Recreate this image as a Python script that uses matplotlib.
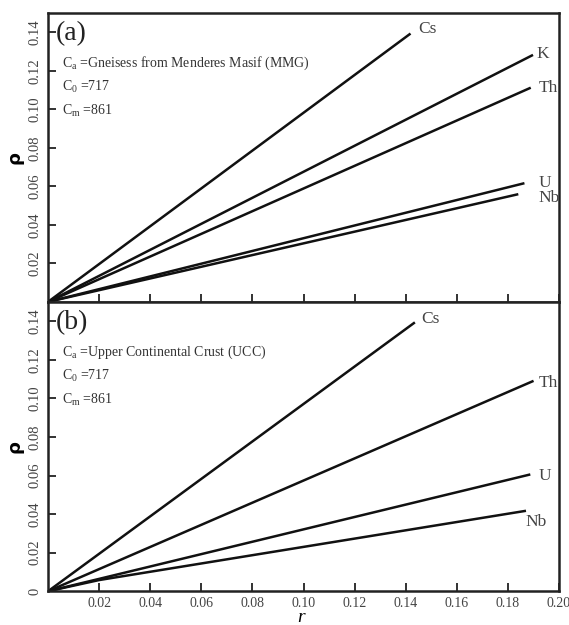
import matplotlib
matplotlib.use("Agg")
from matplotlib import pyplot as plt

# panel (a): Gneisess from Menderes Masif
a_names = ["Cs", "K", "Th", "U", "Nb"]
a_r = [[0, 0.1415], [0, 0.1894], [0, 0.1885], [0, 0.186], [0, 0.1836]]
a_rho = [[0, 0.139], [0, 0.128], [0, 0.111], [0, 0.0615], [0, 0.0558]]
a_lab = [(0.145, 0.142), (0.191, 0.129), (0.192, 0.111), (0.192, 0.062), (0.192, 0.054)]

# panel (b): Upper Continental Crust
b_names = ["Cs", "Th", "U", "Nb"]
b_r = [[0, 0.1432], [0, 0.1896], [0, 0.1883], [0, 0.02, 0.1866]]
b_rho = [[0, 0.139], [0, 0.1088], [0, 0.0604], [0, 0.0058, 0.0416]]
b_lab = [(0.146, 0.141), (0.192, 0.108), (0.192, 0.060), (0.187, 0.036)]

xticks = [0.02, 0.04, 0.06, 0.08, 0.10, 0.12, 0.14, 0.16, 0.18, 0.20]
yticks = [0.02, 0.04, 0.06, 0.08, 0.10, 0.12, 0.14]

serif = "Liberation Serif"
grey = "#444444"
plt.rcParams["mathtext.fontset"] = "custom"
plt.rcParams["mathtext.rm"] = serif

fig = plt.figure(figsize=(5.69, 6.25), dpi=100)
ax1 = fig.add_axes([0.0844, 0.517, 0.898, 0.462])
ax2 = fig.add_axes([0.0844, 0.054, 0.898, 0.463])


def setup(ax, ylist, show_x):
    ax.set_xlim(0, 0.20)
    ax.set_ylim(0, 0.15)
    ax.set_xticks(xticks)
    ax.set_yticks(ylist)
    ax.tick_params(direction="in", length=6, width=1.3, colors="#222222",
                   labelcolor=grey, top=False, right=False, pad=5)
    ax.tick_params(axis="x", pad=4)
    ax.set_yticklabels(["0" if v == 0 else "%.2f" % v for v in ylist],
                       rotation=90, va="center", family=serif, fontsize=10.5)
    if show_x:
        ax.set_xticklabels(["%.2f" % v for v in xticks], family=serif, fontsize=10)
    else:
        ax.set_xticklabels([])
    for s in ax.spines.values():
        s.set_linewidth(1.8)
        s.set_color("#222222")
    ax.set_ylabel("ρ", fontsize=13, fontweight="bold", labelpad=3)


setup(ax1, yticks, False)
setup(ax2, [0] + yticks, True)
fig.text(0.529, 0.0115, "r", family=serif, style="italic", fontsize=14,
         ha="center", va="center")

for xs, ys in zip(a_r, a_rho):
    ax1.plot(xs, ys, color="#111111", lw=1.8)
for name, (x, y) in zip(a_names, a_lab):
    ax1.text(x, y, name, family=serif, fontsize=12.5, color=grey, va="center")

for xs, ys in zip(b_r, b_rho):
    ax2.plot(xs, ys, color="#111111", lw=1.8)
for name, (x, y) in zip(b_names, b_lab):
    ax2.text(x, y, name, family=serif, fontsize=12.5, color=grey, va="center")

ax1.text(0.0030, 0.1395, "(a)", family=serif, fontsize=20, color="#222222", va="center")
ax2.text(0.0030, 0.1395, "(b)", family=serif, fontsize=20, color="#222222", va="center")

info_a = ["C$_\\mathrm{a}$ =Gneisess from Menderes Masif (MMG)",
          "C$_\\mathrm{0}$ =717", "C$_\\mathrm{m}$ =861"]
info_b = ["C$_\\mathrm{a}$ =Upper Continental Crust (UCC)",
          "C$_\\mathrm{0}$ =717", "C$_\\mathrm{m}$ =861"]
for ax, info in ((ax1, info_a), (ax2, info_b)):
    for i, t in enumerate(info):
        ax.text(0.0055, 0.124 - i * 0.0125, t, family=serif, fontsize=10,
                color="#333333", va="center")

fig.savefig("out.png", dpi=100)
